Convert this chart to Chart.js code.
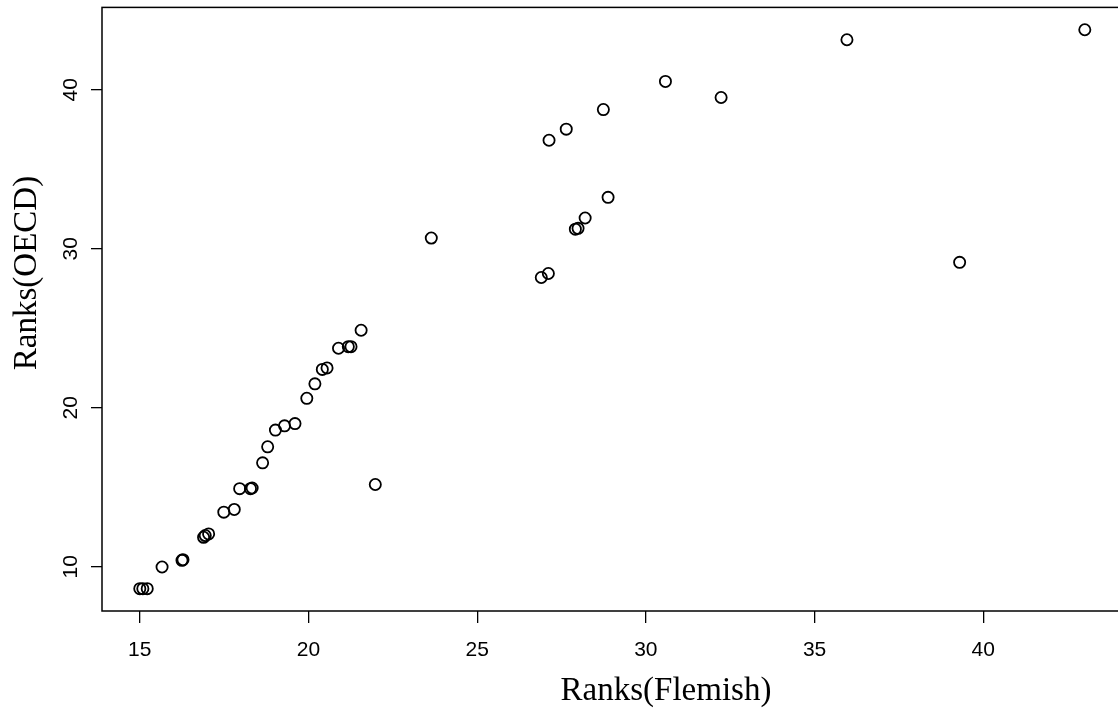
<!DOCTYPE html>
<html>
<head>
<meta charset="utf-8">
<script src="https://cdn.jsdelivr.net/npm/chart.js@4/dist/chart.umd.min.js"></script>
<style>
  html, body { margin: 0; padding: 0; background: #fff; overflow: hidden; }
  #wrap { width: 1118px; height: 709px; overflow: hidden; }
  #rankChart { display: block; }
</style>
</head>
<body>
<div id="wrap"><canvas id="rankChart" width="1130" height="709"></canvas></div>
<script>
// Ranks
const flemish = [15.00, 15.09, 15.22, 15.66, 16.25, 16.28, 16.89, 16.94, 17.04, 17.49,
  17.80, 17.96, 18.28, 18.33, 18.64, 18.79, 19.02, 19.29, 19.60, 19.95,
  20.19, 20.41, 20.55, 20.89, 21.18, 21.26, 21.56, 21.98, 23.64, 26.90,
  27.11, 27.91, 27.99, 28.20, 28.88, 27.13, 27.64, 28.74, 30.58, 32.23,
  35.96, 43.01, 39.30];
const oecd = [8.62, 8.62, 8.62, 9.98, 10.40, 10.44, 11.85, 11.96, 12.06, 13.43,
  13.60, 14.91, 14.91, 14.95, 16.53, 17.54, 18.59, 18.86, 19.00, 20.59,
  21.50, 22.41, 22.50, 23.74, 23.84, 23.84, 24.87, 15.17, 30.67, 28.19,
  28.44, 31.23, 31.28, 31.93, 33.23, 36.82, 37.52, 38.75, 40.52, 39.51,
  43.14, 43.77, 29.14];
const xTicks = [15, 20, 25, 30, 35, 40];
const yTicks = [10, 20, 30, 40];
const xTitle = "Ranks(Flemish)";
const yTitle = "Ranks(OECD)";

// R-style axis range: data range plus 4% each side
function paddedRange(arr) {
  const lo = Math.min(...arr), hi = Math.max(...arr);
  const pad = (hi - lo) * 0.04;
  return [lo - pad, hi + pad];
}
const [xMin, xMax] = paddedRange(flemish);
const [yMin, yMax] = paddedRange(oecd);

const points = flemish.map((x, i) => ({ x: x, y: oecd[i] }));

const tickFont = { family: "'Liberation Sans', Arial, sans-serif", size: 21 };
const titleFont = "33px 'Liberation Serif', 'Times New Roman', serif";

// box, rotated y tick labels and axis titles
const framePlugin = {
  id: "frame",
  afterDraw(chart) {
    const { ctx, chartArea: a, scales } = chart;
    ctx.save();
    ctx.strokeStyle = "#000";
    ctx.lineWidth = 1.5;
    ctx.strokeRect(a.left, a.top, a.right - a.left, a.bottom - a.top);

    ctx.fillStyle = "#000";
    ctx.font = tickFont.size + "px " + tickFont.family;
    ctx.textAlign = "center";
    ctx.textBaseline = "middle";
    yTicks.forEach((v) => {
      const py = scales.y.getPixelForValue(v);
      ctx.save();
      ctx.translate(71, py);
      ctx.rotate(-Math.PI / 2);
      ctx.fillText(String(v), 0, 0);
      ctx.restore();
    });

    ctx.font = titleFont;
    ctx.fillText(xTitle, 666, 691);
    ctx.save();
    ctx.translate(27, 273);
    ctx.rotate(-Math.PI / 2);
    ctx.fillText(yTitle, 0, 0);
    ctx.restore();
    ctx.restore();
  },
};

const ctx = document.getElementById("rankChart").getContext("2d");
const rankChart = new Chart(ctx, {
  type: "scatter",
  data: {
    datasets: [
      {
        data: points,
        pointStyle: "circle",
        pointRadius: 5.6,
        pointBorderWidth: 1.8,
        pointBorderColor: "#000",
        pointBackgroundColor: "rgba(0,0,0,0)",
      },
    ],
  },
  options: {
    responsive: false,
    animation: false,
    // plot area runs a little past the right edge of the window, as in the reference
    layout: { padding: { top: 7, right: 2.6, bottom: 0, left: 0 } },
    plugins: {
      legend: { display: false },
      tooltip: { enabled: false },
    },
    scales: {
      x: {
        type: "linear",
        min: xMin,
        max: xMax,
        afterBuildTicks: (s) => { s.ticks = xTicks.map((v) => ({ value: v })); },
        afterFit: (s) => { s.height = 98; s.paddingLeft = 0; s.paddingRight = 0; },
        border: { display: false },
        grid: { drawOnChartArea: false, color: "#000", lineWidth: 1.3, tickLength: 12 },
        ticks: { color: "#000", font: tickFont, padding: 15, maxRotation: 0 },
      },
      y: {
        type: "linear",
        min: yMin,
        max: yMax,
        afterBuildTicks: (s) => { s.ticks = yTicks.map((v) => ({ value: v })); },
        afterFit: (s) => { s.width = 102; s.paddingTop = 0; s.paddingBottom = 0; },
        border: { display: false },
        grid: { drawOnChartArea: false, color: "#000", lineWidth: 1.3, tickLength: 11 },
        ticks: { display: false },
      },
    },
  },
  plugins: [framePlugin],
});
</script>
</body>
</html>
